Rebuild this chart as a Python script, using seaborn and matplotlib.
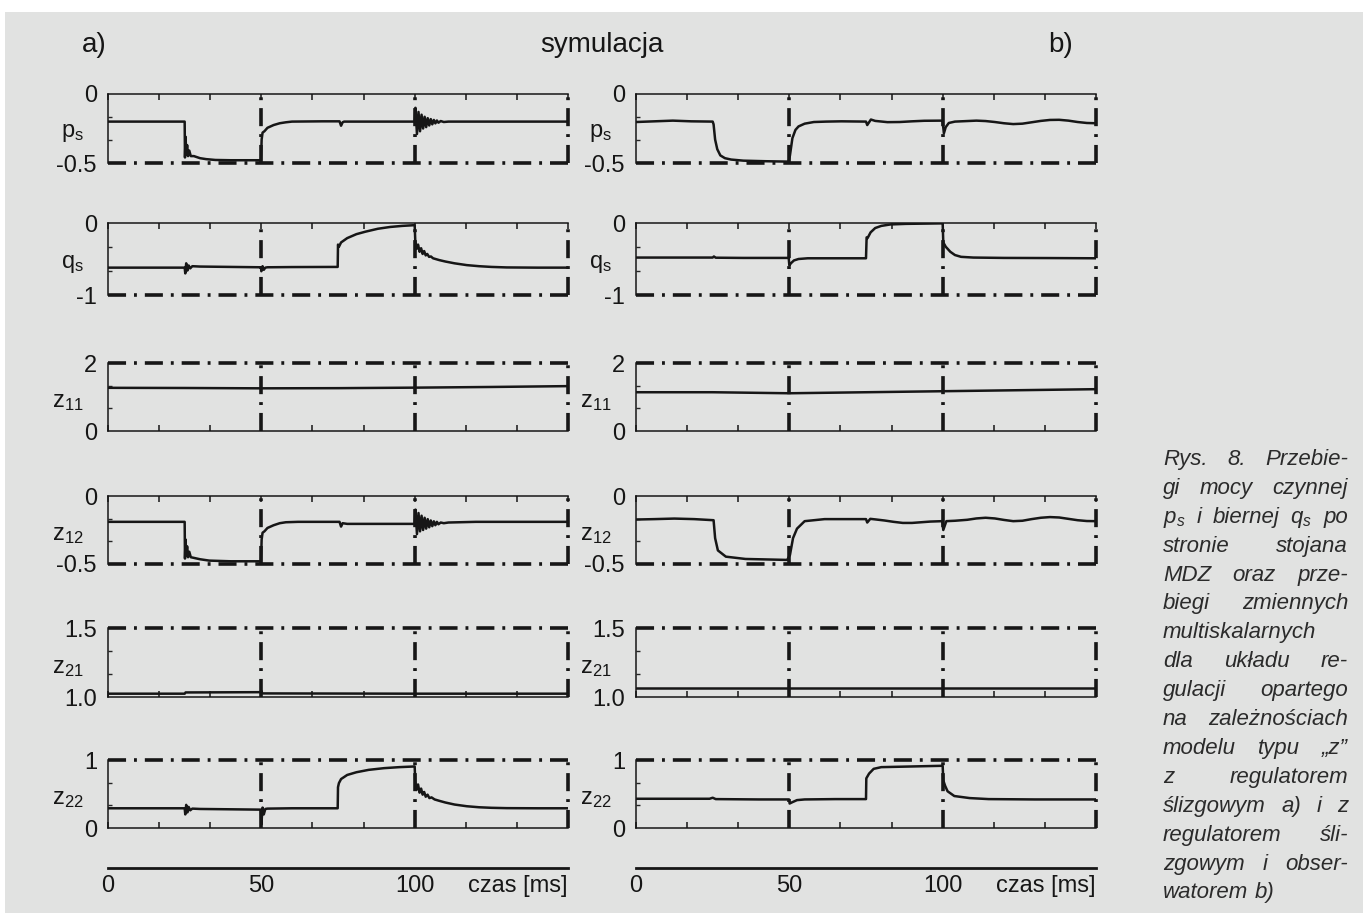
import numpy as np
import pandas as pd
import matplotlib
matplotlib.use("Agg")
import matplotlib.pyplot as plt
from matplotlib.patches import Rectangle
import seaborn as sns

# values: (time [ms], value)
# column a) - sliding-mode controller
a_ps = [(0, -0.2), (25, -0.2), (25.1, -0.46), (25.3, -0.31), (25.5, -0.44), (25.8, -0.37),
        (26.1, -0.45), (26.5, -0.41), (27, -0.45), (28, -0.45), (30, -0.465),
        (32, -0.472), (35, -0.478), (40, -0.48), (49.9, -0.48), (50.1, -0.33), (50.4, -0.28),
        (51, -0.27), (52, -0.245), (54, -0.225), (56, -0.212), (58, -0.205), (60, -0.2),
        (70, -0.198), (75.5, -0.198), (76, -0.23), (76.5, -0.205), (77, -0.2), (90, -0.2),
        (100, -0.2), (100.25, -0.1), (100.75, -0.29), (101.25, -0.13), (101.75, -0.27),
        (102.25, -0.15), (102.75, -0.25), (103.25, -0.165), (103.75, -0.24), (104.25, -0.175),
        (104.75, -0.228), (105.25, -0.182), (105.75, -0.22), (106.25, -0.188), (106.75, -0.213),
        (107.25, -0.192), (107.75, -0.208), (108.5, -0.196), (109.5, -0.203), (111, -0.2),
        (120, -0.2), (150, -0.2)]

a_qs = [(0, -0.62), (25, -0.62), (25.2, -0.7), (25.5, -0.56), (25.9, -0.66), (26.3, -0.59),
        (26.8, -0.63), (27.5, -0.6), (30, -0.605), (40, -0.61), (49.9, -0.615), (50, -0.67),
        (50.4, -0.6), (50.8, -0.65), (51.3, -0.62), (52, -0.615), (60, -0.612), (74.9, -0.61),
        (75, -0.3), (75.3, -0.33), (76, -0.27), (78, -0.21), (81, -0.155), (84, -0.12),
        (88, -0.08), (92, -0.055), (96, -0.04), (100, -0.03), (100.2, -0.25), (100.6, -0.36),
        (101.1, -0.3), (101.6, -0.4), (102.1, -0.35), (102.6, -0.43), (103.1, -0.39),
        (103.6, -0.45), (104.1, -0.43), (104.7, -0.47), (105.3, -0.465), (106, -0.49),
        (108, -0.515), (110, -0.535), (113, -0.56), (117, -0.585), (121, -0.6), (125, -0.61),
        (130, -0.617), (140, -0.62), (150, -0.62)]

a_z11 = [(0, 1.27), (25, 1.265), (50, 1.255), (75, 1.26), (100, 1.275), (125, 1.295), (150, 1.32)]

a_z12 = [(0, -0.19), (25, -0.19), (25.1, -0.46), (25.3, -0.32), (25.5, -0.44), (25.8, -0.37),
         (26.1, -0.45), (26.5, -0.41), (27, -0.45), (28, -0.455), (30, -0.465),
         (33, -0.475), (40, -0.48), (49.9, -0.48), (50.1, -0.32), (50.4, -0.27), (51, -0.26),
         (52, -0.235), (54, -0.215), (56, -0.2), (58, -0.193), (62, -0.19), (75.5, -0.19),
         (76, -0.225), (76.5, -0.2), (78, -0.205), (100, -0.205), (100.25, -0.1),
         (100.75, -0.28), (101.25, -0.125), (101.75, -0.26), (102.25, -0.145), (102.75, -0.25),
         (103.25, -0.16), (103.75, -0.24), (104.25, -0.17), (104.75, -0.23), (105.25, -0.18),
         (105.75, -0.222), (106.25, -0.186), (106.75, -0.215), (107.25, -0.19), (107.75, -0.208),
         (108.5, -0.195), (109.5, -0.2), (111, -0.195), (120, -0.19), (150, -0.19)]

a_z21 = [(0, 1.024), (25, 1.024), (25.3, 1.033), (49.9, 1.035), (50, 1.045), (50.3, 1.026),
         (100, 1.024), (150, 1.024)]

a_z22 = [(0, 0.29), (25, 0.29), (25.2, 0.2), (25.5, 0.34), (25.9, 0.23), (26.3, 0.31),
         (26.8, 0.26), (27.5, 0.285), (30, 0.28), (40, 0.275), (49.9, 0.27), (50, 0.05),
         (50.4, 0.3), (50.8, 0.2), (51.3, 0.28), (52, 0.285), (60, 0.29), (74.9, 0.29), (75, 0.6),
         (75.3, 0.66), (76, 0.72), (78, 0.78), (81, 0.82), (85, 0.855), (90, 0.88), (95, 0.895),
         (100, 0.905), (100.2, 0.68), (100.6, 0.56), (101.1, 0.64), (101.6, 0.52), (102.1, 0.58),
         (102.6, 0.49), (103.1, 0.53), (103.6, 0.46), (104.2, 0.49), (104.8, 0.44), (105.5, 0.45),
         (106.5, 0.42), (108, 0.4), (110, 0.375), (113, 0.345), (117, 0.32), (121, 0.305),
         (125, 0.297), (130, 0.292), (140, 0.29), (150, 0.29)]

# column b) - sliding-mode controller with observer
b_ps = [(0, -0.203), (6, -0.198), (12, -0.193), (18, -0.198), (25, -0.2), (25.3, -0.22),
        (25.8, -0.33), (26.5, -0.4), (27.5, -0.445), (29, -0.465), (31, -0.475), (35, -0.483),
        (42, -0.487), (49.8, -0.49), (50.2, -0.445), (51, -0.32), (52, -0.26), (53, -0.235),
        (55, -0.215), (58, -0.203), (62, -0.2), (67, -0.198), (75, -0.2), (75.4, -0.225),
        (76, -0.205), (76.6, -0.185), (78, -0.195), (82, -0.204), (86, -0.203), (90, -0.198),
        (94, -0.194), (99.8, -0.193), (100, -0.2), (100.4, -0.285), (101, -0.24), (102, -0.21),
        (104, -0.2), (108, -0.196), (111, -0.193), (114, -0.196), (117, -0.203), (120, -0.212),
        (123, -0.218), (126, -0.215), (129, -0.205), (132, -0.195), (135, -0.188), (138, -0.187),
        (141, -0.193), (144, -0.203), (147, -0.21), (150, -0.212)]

b_qs = [(0, -0.48), (25, -0.48), (25.4, -0.465), (26, -0.482), (35, -0.485), (49.8, -0.485),
        (50, -0.59), (50.5, -0.56), (51.5, -0.52), (53, -0.5), (56, -0.49), (75, -0.49),
        (75.2, -0.2), (75.5, -0.21), (76.5, -0.13), (78, -0.07), (80, -0.04), (83, -0.02),
        (88, -0.012), (95, -0.008), (100, -0.005), (100.2, -0.27), (101, -0.33), (102.5, -0.4),
        (104, -0.445), (106, -0.47), (110, -0.48), (120, -0.485), (135, -0.487), (150, -0.49)]

b_z11 = [(0, 1.14), (25, 1.14), (50, 1.11), (75, 1.14), (100, 1.17), (125, 1.2), (150, 1.23)]

b_z12 = [(0, -0.173), (6, -0.17), (12.5, -0.166), (19, -0.17), (25.3, -0.178), (25.8, -0.31),
         (26.7, -0.4), (29.3, -0.446), (35.7, -0.463), (49.3, -0.47), (50.2, -0.434),
         (51.2, -0.31), (52.5, -0.24), (55, -0.185), (61.5, -0.17), (75, -0.17), (75.4, -0.195),
         (76.4, -0.168), (78, -0.172), (81, -0.18), (84, -0.19), (87, -0.198), (90, -0.198),
         (93, -0.193), (96, -0.188), (99.9, -0.185), (100.2, -0.25), (101.2, -0.185),
         (104, -0.182), (108, -0.175), (111, -0.165), (114, -0.16), (117, -0.165), (120, -0.176),
         (123, -0.185), (126, -0.182), (129, -0.17), (132, -0.16), (135, -0.155), (138, -0.158),
         (141, -0.168), (144, -0.178), (147, -0.184), (150, -0.185)]

b_z21 = [(0, 1.065), (50, 1.065), (100, 1.065), (150, 1.065)]

b_z22 = [(0, 0.43), (24, 0.43), (25, 0.445), (26, 0.425), (40, 0.42), (49.9, 0.42),
         (50.1, 0.36), (51, 0.38), (52.5, 0.41), (55, 0.42), (65, 0.425), (75, 0.425),
         (75.1, 0.73), (76, 0.8), (77.5, 0.87), (80, 0.895), (90, 0.905), (100, 0.915),
         (100.2, 0.7), (100.8, 0.62), (101.6, 0.54), (103.8, 0.47), (108.8, 0.44),
         (115, 0.425), (130, 0.42), (150, 0.42)]

# panel name, subscript, lower limit, upper limit, which limit is the solid axis
panel_names = ["p", "q", "z", "z", "z", "z"]
panel_subs = ["s", "s", "11", "12", "21", "22"]
panel_lims = [(-0.5, 0), (-1, 0), (0, 2), (-0.5, 0), (1.0, 1.5), (0, 1)]
panel_ticklabels = [("-0.5", "0"), ("-1", "0"), ("0", "2"), ("-0.5", "0"), ("1.0", "1.5"), ("0", "1")]
panel_solid = ["top", "top", "bottom", "top", "bottom", "bottom"]
series_a = [a_ps, a_qs, a_z11, a_z12, a_z21, a_z22]
series_b = [b_ps, b_qs, b_z11, b_z12, b_z21, b_z22]
time_labels = ["0", "", "", "50", "", "", "100", "", "", "czas [ms]"]

caption = [
    ["Rys.", "8.", "Przebie-"],
    ["gi", "mocy", "czynnej"],
    ["p$_s$", "i", "biernej", "q$_s$", "po"],
    ["stronie", "stojana"],
    ["MDZ", "oraz", "prze-"],
    ["biegi", "zmiennych"],
    ["multiskalarnych"],
    ["dla", "układu", "re-"],
    ["gulacji", "opartego"],
    ["na", "zależnościach"],
    ["modelu", "typu", "„z”"],
    ["z", "regulatorem"],
    ["ślizgowym", "a)", "i", "z"],
    ["regulatorem", "śli-"],
    ["zgowym", "i", "obser-"],
    ["watorem", "b)"],
]

BG = "#e1e2e1"
INK = "#161616"
DASHDOT = (0, (5, 2.2, 0.8, 2.2))

sns.set_style("white")
plt.rcParams["font.family"] = ["Liberation Sans", "DejaVu Sans"]
plt.rcParams["mathtext.fontset"] = "custom"
plt.rcParams["mathtext.rm"] = "Liberation Sans"
plt.rcParams["mathtext.it"] = "Liberation Sans:italic"

W, H = 1363, 913
fig = plt.figure(figsize=(W / 100, H / 100), dpi=100)
fig.patch.set_facecolor("white")
fig.add_artist(Rectangle((5 / W, 0), 1, 1 - 12 / H, transform=fig.transFigure,
                         facecolor=BG, edgecolor="none", zorder=-10))

col_x = [108, 636]
col_w = 460
rows = [(94, 163), (223, 295), (363, 431), (496, 564), (628, 697), (760, 828)]


def draw_panel(ax, pairs, lo, hi, solid, labels):
    df = pd.DataFrame(pairs, columns=["t", "v"])
    sns.lineplot(data=df, x="t", y="v", ax=ax, color=INK, linewidth=1.8,
                 estimator=None, sort=False)
    ax.set_xlim(0, 150)
    ax.set_ylim(lo, hi)
    ax.set_xlabel("")
    ax.set_ylabel("")
    ax.patch.set_visible(False)
    for side in ["top", "bottom", "right"]:
        ax.spines[side].set_visible(False)
    ax.spines["left"].set_linewidth(1.1)
    ax.spines["left"].set_color(INK)
    ax.spines[solid].set_visible(True)
    ax.spines[solid].set_linewidth(1.1)
    ax.spines[solid].set_color(INK)

    other = lo if solid == "top" else hi
    ln = ax.axhline(other, color=INK, lw=2.6, ls=DASHDOT)
    ln.set_clip_on(False)
    for xv in (50, 100, 150):
        ln = ax.axvline(xv, color=INK, lw=2.6, ls=DASHDOT)
        ln.set_clip_on(False)

    ax.set_yticks([lo, hi])
    ax.set_yticklabels(labels)
    ax.set_yticks([lo + (hi - lo) / 3, lo + 2 * (hi - lo) / 3], minor=True)
    ax.tick_params(axis="y", which="major", direction="out", length=5, width=1.1,
                   labelsize=17, pad=3, colors=INK)
    ax.tick_params(axis="y", which="minor", direction="in", length=3, width=1, left=True)
    ax.set_xticks(np.linspace(0, 150, 10))
    ax.tick_params(axis="x", which="major", direction="in", length=4, width=1.1,
                   top=(solid == "top"), bottom=(solid == "bottom"),
                   labeltop=False, labelbottom=False, color=INK)


for c, series in enumerate([series_a, series_b]):
    for r, pairs in enumerate(series):
        top_px, bot_px = rows[r]
        ax = fig.add_axes([col_x[c] / W, 1 - bot_px / H, col_w / W, (bot_px - top_px) / H])
        lo, hi = panel_lims[r]
        draw_panel(ax, pairs, lo, hi, panel_solid[r], panel_ticklabels[r])
        fig.text((col_x[c] - 24) / W, 1 - ((top_px + bot_px) / 2 + 5) / H,
                 panel_names[r] + r"$_\mathrm{" + panel_subs[r] + "}$",
                 fontsize=17, ha="right", va="center", color=INK)

    # time axis under each column
    tax = fig.add_axes([col_x[c] / W, 1 - 868 / H, col_w / W, 10 / H])
    tax.patch.set_visible(False)
    for side in ["top", "left", "right"]:
        tax.spines[side].set_visible(False)
    tax.spines["bottom"].set_linewidth(2)
    tax.spines["bottom"].set_color(INK)
    tax.set_xlim(0, 150)
    tax.set_yticks([])
    tax.set_xticks(np.linspace(0, 150, 10))
    tax.set_xticklabels(time_labels)
    tax.get_xticklabels()[-1].set_ha("right")
    tax.tick_params(axis="x", direction="in", length=6, width=1.4, labelsize=17, pad=5, colors=INK)

fig.text(82 / W, 1 - 45 / H, "a)", fontsize=20, ha="left", va="center", color=INK)
fig.text(602 / W, 1 - 45 / H, "symulacja", fontsize=20, ha="center", va="center", color=INK)
fig.text(1048 / W, 1 - 45 / H, "b)", fontsize=20, ha="left", va="center", color=INK)

# justified caption on the right
renderer = fig.canvas.get_renderer()
x0, x1 = 1163, 1348
y = 465
for i, words in enumerate(caption):
    texts = [fig.text(0, 1 - y / H, w, fontsize=16, style="italic", ha="left",
                      va="baseline", color="#2b2b2b") for w in words]
    widths = [t.get_window_extent(renderer).width for t in texts]
    if len(words) > 1 and i < len(caption) - 1:
        gap = (x1 - x0 - sum(widths)) / (len(words) - 1)
    else:
        gap = 6
    x = x0
    for t, wd in zip(texts, widths):
        t.set_x(x / W)
        x += wd + gap
    y += 28.9

fig.savefig("out.png", dpi=100)
